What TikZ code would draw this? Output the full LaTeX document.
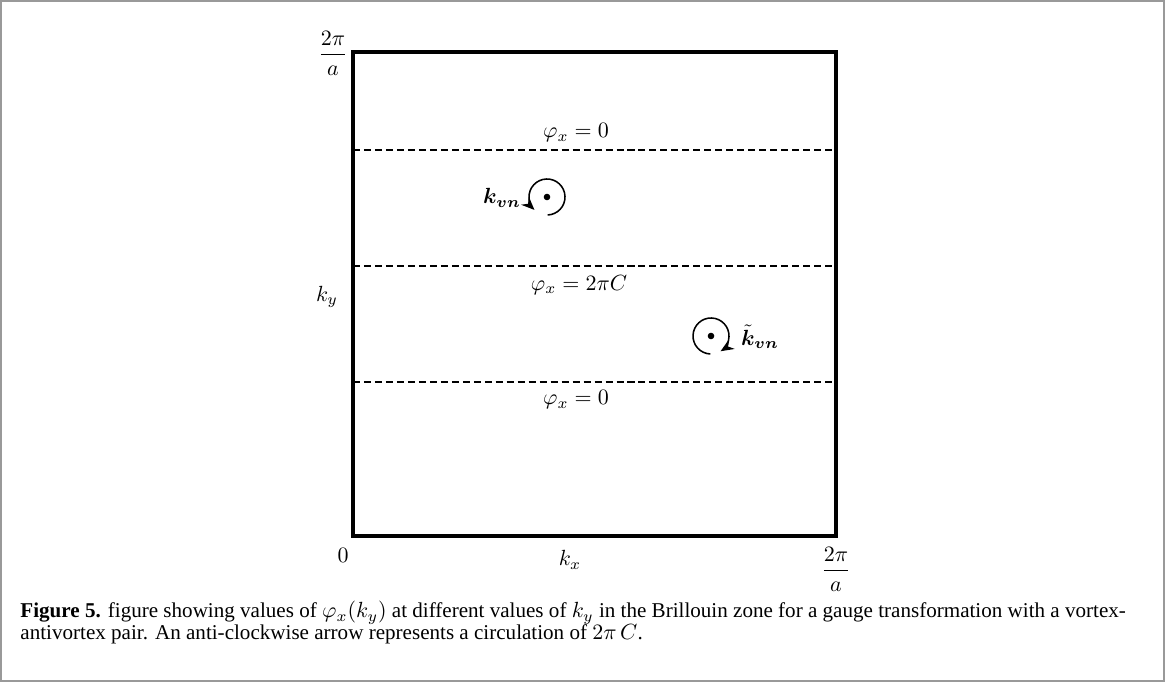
\documentclass[tikz,border=0pt]{standalone}
\usepackage{amsmath,amssymb,bm}
\usepackage{fontspec}
\setmainfont{Liberation Serif}
\usepackage{tikz}
\usetikzlibrary{arrows.meta}
\newcommand\capfont{\fontsize{9.6}{9.6}\selectfont\lineskiplimit=-6pt\relax}

\begin{document}
\begin{tikzpicture}[x=0.016cm, y=0.016cm,
    zone/.style={draw, line width=1.4pt},
    cut/.style={draw, line width=0.5pt, dash pattern=on 3.2pt off 1.8pt},
    lbl/.style={inner sep=0pt},
    vort/.style={line width=0.7pt, -{Stealth[length=6pt, width=5pt]}},
    core/.style={fill, circle, inner sep=0pt, minimum size=3pt},
    figcap/.style={anchor=base west, align=left, inner sep=0pt,
                font=\capfont},
  ]
  \useasboundingbox (0,0) rectangle (1165,682);
  % Frame
  \draw[black!40, line width=0.8pt] (1,1) rectangle (1164,681);

  % Brillouin zone
  \coordinate (bl) at (353,146);
  \coordinate (tr) at (836,630);
  \draw[zone] (bl) rectangle (tr);
  \foreach \y in {532,416,300}
    \draw[cut] (353,\y) -- (836,\y);

  % Phase values
  \node[lbl] (phtop) at (576,549) {$\varphi_x = 0$};
  \node[lbl] (phmid) at (579,397) {$\varphi_x = 2\pi C$};
  \node[lbl] (phbot) at (576,282) {$\varphi_x = 0$};

  % Axis labels
  \node[lbl] (ytop) at (333,629) {$\dfrac{2\pi}{a}$};
  \node[lbl] (ky) at (327,385) {$k_y$};
  \node[lbl] (orig) at (343,127) {$0$};
  \node[lbl] (kx) at (570,122) {$k_x$};
  \node[lbl] (xend) at (836,113) {$\dfrac{2\pi}{a}$};

  % Vortex and antivortex
  \node[core] (v1) at (547,485) {};
  \draw[vort] ([shift={(-88:18)}]v1.center) arc[start angle=-88, end angle=226, radius=18];
  \node[lbl] (kvn) at (502,484) {$\bm{k_{vn}}$};

  \node[core] (v2) at (711,346) {};
  \draw[vort] ([shift={(268:18)}]v2.center) arc[start angle=268, end angle=-58, radius=18];
  \node[lbl] (kvt) at (760,345) {$\bm{\tilde{k}_{vn}}$};

  % Caption
  \node[figcap] (caption) at (20,43) {\textbf{Figure 5.} figure showing values of $\varphi_x(k_y)$ at different values of $k_y$ in the Brillouin zone for a gauge transformation with a vortex-\\antivortex pair. An anti-clockwise arrow represents a circulation of $2\pi\,C$.};
\end{tikzpicture}
\end{document}
